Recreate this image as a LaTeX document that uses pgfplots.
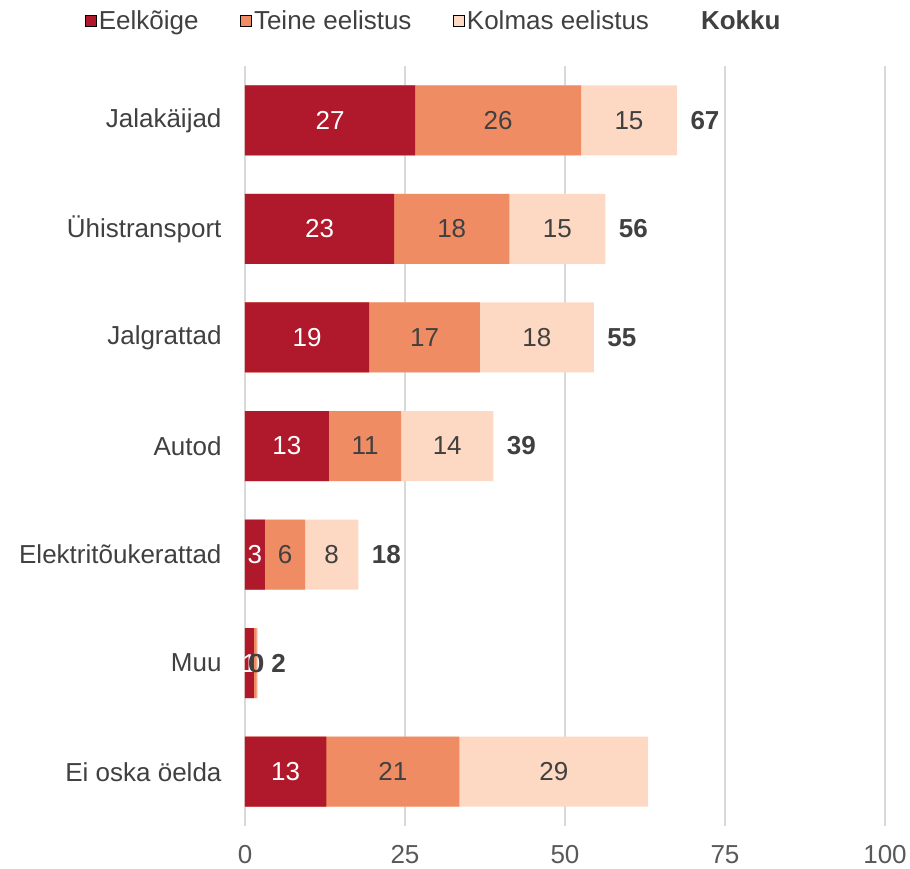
\documentclass[border=0pt]{standalone}
\usepackage{pgfplots}
\pgfplotsset{compat=1.18}
\usepackage{pgfplotstable}
\usepackage{fontspec}
\setmainfont{Liberation Sans}
\definecolor{c1}{HTML}{B0182B}
\definecolor{c2}{HTML}{F08C64}
\definecolor{c3}{HTML}{FDD8C3}
\definecolor{txt}{HTML}{404040}
\definecolor{tck}{HTML}{595959}
\definecolor{gridc}{HTML}{D9D9D9}
\newcommand{\fs}{\fontsize{26bp}{31bp}\selectfont}

\pgfplotstableread{
idx a b c la lb lc
0 26.6 25.9 15.0 27 26 15
1 23.3 18.0 15.0 23 18 15
2 19.4 17.3 17.8 19 17 18
3 13.1 11.3 14.4 13 11 14
4 3.1 6.3 8.3 3 6 8
5 1.4 0.4 0.2 1 0 0
6 12.7 20.8 29.5 13 21 29
}\data

\pgfplotstableread{
idx tot lt
0 67.5 67
1 56.3 56
2 54.5 55
3 38.8 39
4 17.7 18
5 2.0 2
}\totals

\begin{document}
\begin{tikzpicture}
\begin{axis}[
  name=ax,
  scale only axis,
  width=640bp, height=760bp,
  xmin=0, xmax=100,
  ymin=-0.5, ymax=6.5,
  y dir=reverse,
  bar width=70bp,
  clip=false,
  axis line style={draw=none},
  major tick length=0pt,
  xtick={0,25,50,75,100},
  ytick={0,1,2,3,4,5,6},
  yticklabels={Jalakäijad,Ühistransport,Jalgrattad,Autod,Elektritõukerattad,Muu,Ei oska öelda},
  xmajorgrids,
  grid style={draw=gridc, line width=1.4bp},
  /pgf/number format/assume math mode=true,
  xticklabel style={font=\fs, text=tck},
  yticklabel style={font=\fs, text=txt},
  xticklabel shift=16bp,
  yticklabel shift=20bp,
  legend columns=-1,
  legend style={at={(-0.255,1.06)}, anchor=west, draw=none, fill=none,
    font=\fs, text=txt,
    /tikz/every even column/.append style={column sep=39bp},
    nodes={inner sep=2.5bp}},
  legend image code/.code={\fill[#1] (0bp,-6bp) rectangle (11bp,5bp);},
]
% bars drawn as cumulative overlapping bars
\addplot[xbar, fill=c3, draw=none, forget plot] table[x expr=\thisrow{a}+\thisrow{b}+\thisrow{c}, y=idx] {\data};
\addplot[xbar, fill=c2, draw=none, forget plot] table[x expr=\thisrow{a}+\thisrow{b}, y=idx] {\data};
\addplot[xbar, fill=c1, draw=none, forget plot] table[x=a, y=idx] {\data};
% segment labels
\addplot[draw=none, mark=none, forget plot, nodes near coords, point meta=explicit symbolic,
  nodes near coords style={anchor=center, font=\fs, text=white}]
  table[x expr=\thisrow{a}/2, y=idx, meta=la] {\data};
\addplot[draw=none, mark=none, forget plot, nodes near coords, point meta=explicit symbolic,
  nodes near coords style={anchor=center, font=\fs, text=txt}]
  table[x expr=\thisrow{a}+\thisrow{b}/2, y=idx, meta=lb] {\data};
\addplot[draw=none, mark=none, forget plot, nodes near coords, point meta=explicit symbolic,
  nodes near coords style={anchor=center, font=\fs, text=txt}]
  table[x expr=\thisrow{a}+\thisrow{b}+\thisrow{c}/2, y=idx, meta=lc] {\data};
% totals
\addplot[draw=none, mark=none, forget plot, nodes near coords, point meta=explicit symbolic,
  nodes near coords style={anchor=west, xshift=10bp, font=\fs\bfseries, text=txt}]
  table[x=tot, y=idx, meta=lt] {\totals};
\addlegendimage{fill=c1}
\addlegendentry{Eelkõige}
\addlegendimage{fill=c2}
\addlegendentry{Teine eelistus}
\addlegendimage{fill=c3}
\addlegendentry{Kolmas eelistus}
\addlegendimage{empty legend}
\addlegendentry{\hspace{8bp}\textbf{Kokku}}
\end{axis}
\pgfresetboundingbox
\path ([xshift=-245bp,yshift=-43bp]ax.south west) rectangle ([xshift=25bp,yshift=66bp]ax.north east);
\end{tikzpicture}
\end{document}
